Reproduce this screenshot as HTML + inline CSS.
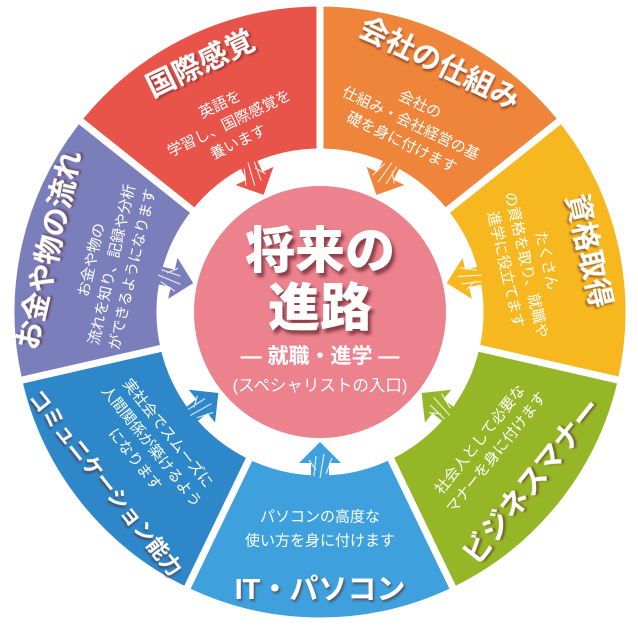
<!DOCTYPE html>
<html><head><meta charset="utf-8"><style>
html,body{margin:0;padding:0;background:#fff;}
svg{display:block;}
text{font-family:"Liberation Sans","Noto Sans CJK JP",sans-serif;font-weight:bold;fill:#fff;}
.t{font-size:29px;}
.d{font-size:15px;font-weight:normal;}
</style></head><body>
<svg width="638" height="633" viewBox="0 0 638 633" xmlns="http://www.w3.org/2000/svg">
<defs>
<filter id="sh" x="-20%" y="-20%" width="140%" height="140%"><feDropShadow dx="1.5" dy="2" stdDeviation="1" flood-color="#5a2020" flood-opacity="0.6"/></filter>
<filter id="sh2" x="-20%" y="-20%" width="140%" height="140%"><feDropShadow dx="3" dy="4" stdDeviation="1.5" flood-color="#6b2a33" flood-opacity="0.75"/></filter>
<g id="arr"><polygon points="0,-130 -21,-151 -9,-151 -9,-171 9,-171 9,-151 21,-151"/>
<path d="M-12,-146 L-6,-162 M-4,-142 L0,-166 M4,-144 L6,-164 M11,-148 L4,-158" stroke="#fff" stroke-width="1.2" fill="none" opacity="0.8"/></g>
</defs>
<g stroke="#fff" stroke-width="7" stroke-linejoin="miter">
<path d="M320,3 A309,309 0 0 1 561.6,119.3 L445.1,212.2 A160,160 0 0 0 320,152 Z" fill="#EF853A"/>
<path d="M561.6,119.3 A309,309 0 0 1 621.2,380.8 L476,347.6 A160,160 0 0 0 445.1,212.2 Z" fill="#F7B71E"/>
<path d="M621.2,380.8 A309,309 0 0 1 454.1,590.4 L389.4,456.2 A160,160 0 0 0 476,347.6 Z" fill="#95B627"/>
<path d="M454.1,590.4 A309,309 0 0 1 185.9,590.4 L250.6,456.2 A160,160 0 0 0 389.4,456.2 Z" fill="#3EA0DC"/>
<path d="M185.9,590.4 A309,309 0 0 1 18.8,380.8 L164,347.6 A160,160 0 0 0 250.6,456.2 Z" fill="#2D87C8"/>
<path d="M18.8,380.8 A309,309 0 0 1 78.4,119.3 L194.9,212.2 A160,160 0 0 0 164,347.6 Z" fill="#7A7EBB"/>
<path d="M78.4,119.3 A309,309 0 0 1 320,3 L320,152 A160,160 0 0 0 194.9,212.2 Z" fill="#E9544A"/>
</g>
<g transform="translate(320 312)">
<use href="#arr" fill="#EF853A" transform="rotate(25.71)"/>
<use href="#arr" fill="#F7B71E" transform="rotate(77.14)"/>
<use href="#arr" fill="#95B627" transform="rotate(128.57)"/>
<use href="#arr" fill="#3EA0DC" transform="rotate(180)"/>
<use href="#arr" fill="#2D87C8" transform="rotate(231.43)"/>
<use href="#arr" fill="#7A7EBB" transform="rotate(282.86)"/>
<use href="#arr" fill="#E9544A" transform="rotate(334.29)"/>
</g>
<circle cx="320" cy="312" r="126" fill="#EC828D"/>
<g filter="url(#sh2)" text-anchor="middle">
<text x="320" y="268" style="font-size:50px;font-weight:900">将来の</text>
<text x="320" y="326" style="font-size:52px;font-weight:900">進路</text>
</g>
<text x="320" y="363" text-anchor="middle" style="font-size:21px">— 就職・進学 —</text>
<text x="320" y="391" text-anchor="middle" style="font-size:16.5px;font-weight:normal">(スペシャリストの入口)</text>
<g text-anchor="middle" dominant-baseline="central">
<g transform="translate(320 312) rotate(-25.71)">
<text class="t" y="-275" filter="url(#sh)">国際感覚</text>
<text class="d" y="-230">英語を</text>
<text class="d" y="-209">学習し、国際感覚を</text>
<text class="d" y="-188">養います</text>
</g>
<g transform="translate(320 312) rotate(25.71)">
<text class="t" y="-275" filter="url(#sh)">会社の仕組み</text>
<text class="d" y="-230">会社の</text>
<text class="d" y="-209">仕組み・会社経営の基</text>
<text class="d" y="-188">礎を身に付けます</text>
</g>
<g transform="translate(320 312) rotate(77.14)">
<text class="t" y="-275" filter="url(#sh)">資格取得</text>
<text class="d" y="-232">たくさん</text>
<text class="d" y="-211">の資格を取り、就職や</text>
<text class="d" y="-190">進学に役立てます</text>
</g>
<g transform="translate(320 312) rotate(-51.43)">
<text class="d" y="205">社会人として必要な</text>
<text class="d" y="226">マナーを身に付けます</text>
<text class="t" y="272" filter="url(#sh)">ビジネスマナー</text>
</g>
<g transform="translate(320 312)">
<text class="d" y="205">パソコンの高度な</text>
<text class="d" y="229">使い方を身に付けます</text>
<text class="t" y="278" filter="url(#sh)">IT・パソコン</text>
</g>
<g transform="translate(320 312) rotate(51.43)">
<text class="d" y="195">実社会でスムーズに</text>
<text class="d" y="216">人間関係が築けるよう</text>
<text class="d" y="237">になります</text>
<text class="t" y="275" style="font-size:21px" filter="url(#sh)">コミュニケーション能力</text>
</g>
<g transform="translate(320 312) rotate(-77.14)">
<text class="t" y="-277" filter="url(#sh)">お金や物の流れ</text>
<text class="d" y="-234">お金や物の</text>
<text class="d" y="-213">流れを知り、記録や分析</text>
<text class="d" y="-192">ができるようになります</text>
</g>
</g>
</svg>
</body></html>
